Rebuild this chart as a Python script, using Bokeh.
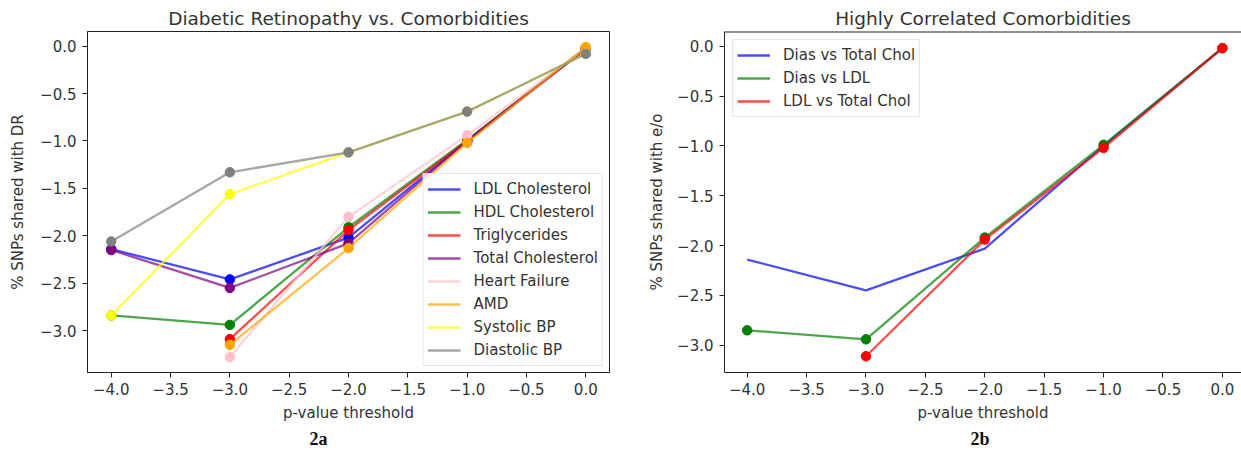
from bokeh.plotting import figure
from bokeh.layouts import row
from bokeh.models import Range1d, FixedTicker, Span, Title
from bokeh.embed import file_html
from bokeh.resources import INLINE

# ---------------- data (panel 2a) ----------------
thresholds = [-4.0, -3.0, -2.0, -1.0, 0.0]
thresholds_short = [-3.0, -2.0, -1.0, 0.0]

ldl_chol = [-2.14, -2.46, -2.02, -1.00, -0.02]
hdl_chol = [-2.84, -2.94, -1.91, -0.99, -0.02]
triglycerides = [-3.09, -1.94, -1.00, -0.02]
total_chol = [-2.15, -2.55, -2.08, -1.00, -0.03]
heart_failure = [-3.28, -1.80, -0.94, -0.02]
amd = [-3.15, -2.13, -1.02, -0.01]
systolic_bp = [-2.84, -1.56, -1.12, -0.69, -0.08]
diastolic_bp = [-2.06, -1.33, -1.12, -0.69, -0.08]

# ---------------- data (panel 2b) ----------------
dias_vs_total = [-2.14, -2.45, -2.03, -1.00, -0.02]
dias_vs_ldl = [-2.85, -2.94, -1.92, -0.99, -0.02]
ldl_vs_total = [-3.11, -1.94, -1.02, -0.02]

x_ticks = [-4.0, -3.5, -3.0, -2.5, -2.0, -1.5, -1.0, -0.5, 0.0]
y_ticks = [-3.0, -2.5, -2.0, -1.5, -1.0, -0.5, 0.0]

FONT = "DejaVu Sans"
TXT = "#333333"
AX = "#222222"


def fmt(v):
    return f"{v:.1f}".replace("-", "\u2212")


def style(p, ylabel):
    p.title.text_font = FONT
    p.title.text_font_size = "18.5px"
    p.title.text_font_style = "normal"
    p.title.text_color = TXT
    p.title.align = "center"
    p.title.standoff = 6
    p.xgrid.visible = False
    p.ygrid.visible = False
    p.xaxis.ticker = FixedTicker(ticks=x_ticks)
    p.yaxis.ticker = FixedTicker(ticks=y_ticks)
    p.xaxis.major_label_overrides = {t: fmt(t) for t in x_ticks}
    p.yaxis.major_label_overrides = {t: fmt(t) for t in y_ticks}
    p.xaxis.axis_label = "p-value threshold"
    p.yaxis.axis_label = ylabel
    for ax in (p.xaxis, p.yaxis):
        ax.axis_label_text_font = FONT
        ax.axis_label_text_font_size = "15px"
        ax.axis_label_text_font_style = "normal"
        ax.axis_label_text_color = TXT
        ax.major_label_text_font = FONT
        ax.major_label_text_font_size = "15px"
        ax.major_label_text_color = TXT
        ax.axis_line_color = AX
        ax.axis_line_width = 1
        ax.major_tick_line_color = AX
        ax.major_tick_out = 5
        ax.major_tick_in = 0
        ax.minor_tick_line_color = None
    p.xaxis.major_label_standoff = 5
    p.xaxis.axis_label_standoff = 6
    p.yaxis.major_label_standoff = 6
    p.yaxis.axis_label_standoff = 10


def legend_style(p, loc, margin):
    lg = p.legend[0]
    lg.location = loc
    lg.margin = margin
    lg.padding = 4
    lg.spacing = 1
    lg.label_height = 22
    lg.glyph_height = 22
    lg.glyph_width = 33
    lg.label_standoff = 13
    lg.label_text_font = FONT
    lg.label_text_font_size = "15px"
    lg.label_text_color = TXT
    lg.border_line_color = "#d0d0d0"
    lg.background_fill_alpha = 0.8


def caption(p, text, offset):
    t = Title(text=text, align="left", offset=offset, text_font="Liberation Serif",
              text_font_style="bold", text_font_size="18px", text_color="#111111",
              standoff=4)
    p.add_layout(t, "below")


LW = 2.3
LA = 0.7
MS = 9.5

# ---------------- panel 2a ----------------
p1 = figure(width=628, height=456, output_backend="svg", toolbar_location=None,
            title="Diabetic Retinopathy vs. Comorbidities",
            x_range=Range1d(-4.2, 0.2), y_range=Range1d(-3.442, 0.155),
            min_border_left=87, min_border_right=19, min_border_top=31,
            min_border_bottom=84)
p1.outline_line_color = AX
p1.outline_line_width = 1
style(p1, "% SNPs shared with DR")

series_a = [
    (thresholds, ldl_chol, "blue", "LDL Cholesterol"),
    (thresholds, hdl_chol, "green", "HDL Cholesterol"),
    (thresholds_short, triglycerides, "red", "Triglycerides"),
    (thresholds, total_chol, "purple", "Total Cholesterol"),
    (thresholds_short, heart_failure, "pink", "Heart Failure"),
    (thresholds_short, amd, "orange", "AMD"),
    (thresholds, systolic_bp, "yellow", "Systolic BP"),
    (thresholds, diastolic_bp, "gray", "Diastolic BP"),
]
for xs, ys, c, name in series_a:
    p1.line(xs, ys, line_color=c, line_width=LW, line_alpha=LA, legend_label=name)
    p1.scatter(xs, ys, size=MS, fill_color=c, line_color=c)
legend_style(p1, "bottom_right", 6)
caption(p1, "2a", 222)

# ---------------- panel 2b ----------------
p2 = figure(width=613, height=456, output_backend="svg", toolbar_location=None,
            title="Highly Correlated Comorbidities",
            x_range=Range1d(-4.191, 0.161), y_range=Range1d(-3.273, 0.147),
            min_border_left=96, min_border_right=0, min_border_top=31,
            min_border_bottom=83)
p2.outline_line_color = None
style(p2, "% SNPs shared with e/o")
p2.yaxis.axis_label_standoff = 8
p2.add_layout(Span(location=0.147, dimension="width", line_color=AX, line_width=2))

p2.line(thresholds, dias_vs_total, line_color="blue", line_width=LW, line_alpha=LA,
        legend_label="Dias vs Total Chol")
p2.line(thresholds, dias_vs_ldl, line_color="green", line_width=LW, line_alpha=LA,
        legend_label="Dias vs LDL")
p2.scatter(thresholds, dias_vs_ldl, size=MS, fill_color="green", line_color="green")
p2.line(thresholds_short, ldl_vs_total, line_color="red", line_width=LW, line_alpha=LA,
        legend_label="LDL vs Total Chol")
p2.scatter(thresholds_short, ldl_vs_total, size=MS, fill_color="red", line_color="red")
legend_style(p2, "top_left", 8)
caption(p2, "2b", 246)

layout = row(p1, p2, spacing=0)
open("out.html", "w").write(file_html(layout, INLINE))
